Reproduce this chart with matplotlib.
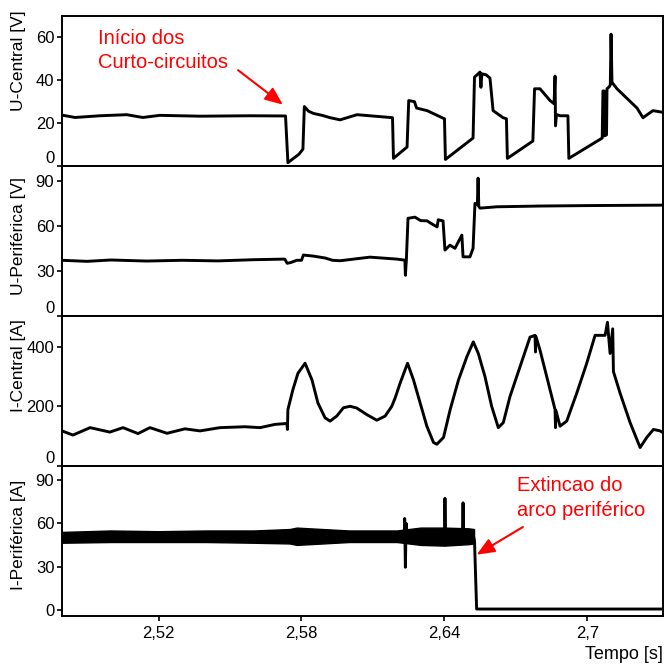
"""
Curvas de tensao e corrente (central / periferica) durante os curto-circuitos
"""
import matplotlib
matplotlib.use("Agg")
import matplotlib.pyplot as plt
from matplotlib.ticker import FuncFormatter

plt.rcParams["font.family"] = ["Liberation Sans", "DejaVu Sans"]

# U-Central [V]
t_uc = [2.4795, 2.4850, 2.4954, 2.5067, 2.5134, 2.5206, 2.5374, 2.5584, 2.5733, 2.5743,
        2.5790, 2.5806, 2.5812, 2.5830, 2.5850, 2.5890, 2.5920, 2.5962, 2.6033, 2.6129,
        2.6182, 2.6186, 2.6243, 2.6250, 2.6274, 2.6283, 2.6327, 2.6390, 2.6400, 2.6404,
        2.6520, 2.6526, 2.6549, 2.6553, 2.6557, 2.6575, 2.6591, 2.6604, 2.6646, 2.6660,
        2.6664, 2.6771, 2.6778, 2.6801, 2.6843, 2.6860, 2.6864, 2.6866, 2.6870, 2.6885,
        2.6918, 2.6922, 2.7062, 2.7065, 2.7070, 2.7072, 2.7080, 2.7082, 2.7092, 2.7096,
        2.7099, 2.7103, 2.7124, 2.7208, 2.7233, 2.7275, 2.7317]
u_central = [23.7, 22.6, 23.4, 23.9, 22.6, 23.6, 23.2, 23.4, 23.3, 1.5,
             5.5, 7.8, 27.7, 25.5, 24.5, 23.5, 22.5, 21.5, 23.9, 23.0,
             22.5, 3.5, 8.8, 30.5, 30.0, 27.0, 25.8, 22.5, 22.0, 3.0,
             13.0, 41.4, 43.8, 36.7, 43.0, 42.5, 41.0, 25.8, 22.5, 22.0,
             3.5, 11.6, 36.0, 36.0, 30.5, 29.0, 41.9, 18.7, 24.0, 23.4,
             23.4, 3.5, 13.0, 35.0, 35.0, 14.0, 14.5, 36.0, 37.0, 38.0,
             61.5, 39.0, 36.0, 27.0, 22.5, 25.8, 25.0]

# U-Periferica [V]
t_up = [2.4795, 2.4900, 2.5000, 2.5150, 2.5300, 2.5450, 2.5600, 2.5730, 2.5740, 2.5755,
        2.5780, 2.5800, 2.5808, 2.5850, 2.5900, 2.5930, 2.5962, 2.6087, 2.6200, 2.6234,
        2.6236, 2.6240, 2.6247, 2.6276, 2.6300, 2.6327, 2.6350, 2.6369, 2.6374, 2.6394,
        2.6402, 2.6423, 2.6444, 2.6473, 2.6478, 2.6507, 2.6520, 2.6528, 2.6538, 2.6541,
        2.6544, 2.6549, 2.6620, 2.6800, 2.7000, 2.7317]
u_periferica = [37.0, 36.3, 37.2, 36.5, 37.0, 36.6, 37.4, 37.8, 35.0, 35.5,
                37.0, 37.0, 40.5, 39.8, 38.5, 37.0, 36.7, 39.1, 37.8, 37.1,
                27.0, 37.0, 65.0, 65.8, 63.5, 63.3, 61.0, 59.3, 64.0, 63.3,
                43.8, 47.1, 45.0, 53.8, 39.3, 39.3, 45.0, 75.0, 74.0, 91.8,
                73.0, 71.8, 72.7, 73.2, 73.5, 73.8]

# I-Central [A]
t_ic = [2.4795, 2.4841, 2.4913, 2.4996, 2.5051, 2.5114, 2.5164, 2.5236, 2.5311, 2.5374,
        2.5458, 2.5563, 2.5626, 2.5689, 2.5739, 2.5741, 2.5743, 2.5764, 2.5785, 2.5815,
        2.5844, 2.5869, 2.5899, 2.5920, 2.5948, 2.5976, 2.6004, 2.6032, 2.6074, 2.6116,
        2.6151, 2.6179, 2.6193, 2.6214, 2.6245, 2.6270, 2.6298, 2.6326, 2.6354, 2.6368,
        2.6396, 2.6424, 2.6459, 2.6494, 2.6521, 2.6542, 2.6570, 2.6598, 2.6626, 2.6647,
        2.6675, 2.6717, 2.6759, 2.6780, 2.6782, 2.6784, 2.6801, 2.6836, 2.6864, 2.6866,
        2.6868, 2.6885, 2.6913, 2.6955, 2.6997, 2.7032, 2.7074, 2.7084, 2.7095, 2.7106,
        2.7109, 2.7137, 2.7179, 2.7221, 2.7249, 2.7277, 2.7305, 2.7317]
i_central = [117, 103, 128, 113, 128, 108, 128, 109, 124, 117,
             128, 131, 128, 139, 142, 122, 189, 256, 311, 345,
             289, 211, 161, 150, 167, 195, 200, 194, 172, 153,
             167, 200, 228, 278, 345, 289, 211, 133, 78, 72,
             95, 189, 289, 367, 417, 378, 300, 200, 128, 145,
             233, 333, 433, 439, 383, 435, 389, 278, 189, 128,
             185, 133, 150, 244, 345, 439, 439, 483, 378, 461,
             317, 244, 145, 61, 95, 122, 117, 111]

# I-Periferica [A] : envelope do ruido antes da extincao
t_band = [2.4795, 2.5000, 2.5200, 2.5400, 2.5600, 2.5750, 2.5780, 2.6000, 2.6200, 2.6250,
          2.6300, 2.6400, 2.6500, 2.6524]
band_lo = [46.5, 47.0, 47.0, 47.0, 46.5, 46.0, 45.0, 47.0, 47.0, 46.0,
           45.0, 44.5, 45.5, 46.0]
band_hi = [54.0, 55.0, 54.5, 55.0, 55.0, 56.0, 57.0, 55.0, 55.0, 56.0,
           57.0, 57.0, 56.5, 56.0]
t_ip = [2.4795, 2.6231, 2.6233, 2.6236, 2.6239, 2.6242, 2.6400, 2.6402, 2.6405, 2.6475,
        2.6478, 2.6481, 2.6522, 2.6526, 2.6535, 2.7317]
i_periferica = [50.5, 50.0, 63.3, 29.5, 60.0, 50.0, 50.0, 77.3, 48.0, 50.0,
                74.2, 48.0, 51.0, 48.0, 0.5, 0.5]

ylabels = ["U-Central [V]", "U-Periférica [V]", "I-Central [A]", "I-Periférica [A]"]
ylims = [(0, 70), (0, 100), (0, 505), (-4, 100)]
yticks = [[0, 20, 40, 60], [0, 30, 60, 90], [0, 200, 400], [0, 30, 60, 90]]
label_y = [0.70, 0.53, 0.67, 0.54]
xticks = [2.52, 2.58, 2.64, 2.70]


def comma(x, pos):
    return ("%g" % round(x, 2)).replace(".", ",")


fig, axes = plt.subplots(4, 1, sharex=True, figsize=(6.68, 6.66), dpi=100)
fig.subplots_adjust(left=0.0928, right=0.9925, top=0.976, bottom=0.0758, hspace=0)

lw = 2.1
axes[0].plot(t_uc, u_central, color="black", lw=lw)
axes[1].plot(t_up, u_periferica, color="black", lw=lw)
axes[2].plot(t_ic, i_central, color="black", lw=lw)
axes[3].fill_between(t_band, band_lo, band_hi, color="black", lw=1.0)
axes[3].plot(t_ip, i_periferica, color="black", lw=lw)

for i, ax in enumerate(axes):
    ax.set_xlim(2.4795, 2.7317)
    ax.set_ylim(*ylims[i])
    ax.set_yticks(yticks[i])
    ax.set_ylabel(ylabels[i], fontsize=12.5)
    ax.yaxis.set_label_coords(-0.06, label_y[i])
    for s in ax.spines.values():
        s.set_linewidth(1.4)
    ax.tick_params(axis="y", direction="out", length=3.5, width=1.2, pad=2, labelsize=12)
    ax.tick_params(axis="x", direction="out", length=3.5, width=1.2, pad=4, labelsize=12)
    if i < 3:
        ax.tick_params(axis="x", bottom=False)
        # o "0" fica acima do traco para nao colidir com o painel de baixo
        ax.yaxis.get_major_ticks()[0].label1.set_verticalalignment("bottom")

axes[3].set_xticks(xticks)
axes[3].xaxis.set_major_formatter(FuncFormatter(comma))
axes[3].set_xlabel("Tempo [s]", loc="right", fontsize=13, labelpad=4)

arrow = dict(arrowstyle="-|>,head_length=0.6,head_width=0.25", color="red", lw=1.5,
             mutation_scale=18, shrinkA=0, shrinkB=0)
axes[0].text(2.4946, 54, "Início dos\nCurto-circuitos", color="red", fontsize=14.5,
             ha="left", va="center", linespacing=1.35)
axes[0].annotate("", xy=(2.5722, 28.6), xytext=(2.5534, 44.7), arrowprops=arrow)
axes[3].text(2.6703, 77.5, "Extincao do\narco periférico", color="red", fontsize=14.5,
             ha="left", va="center", linespacing=1.35)
axes[3].annotate("", xy=(2.6535, 38.2), xytext=(2.6729, 57.4), arrowprops=arrow)

fig.savefig("out.png", dpi=100)
